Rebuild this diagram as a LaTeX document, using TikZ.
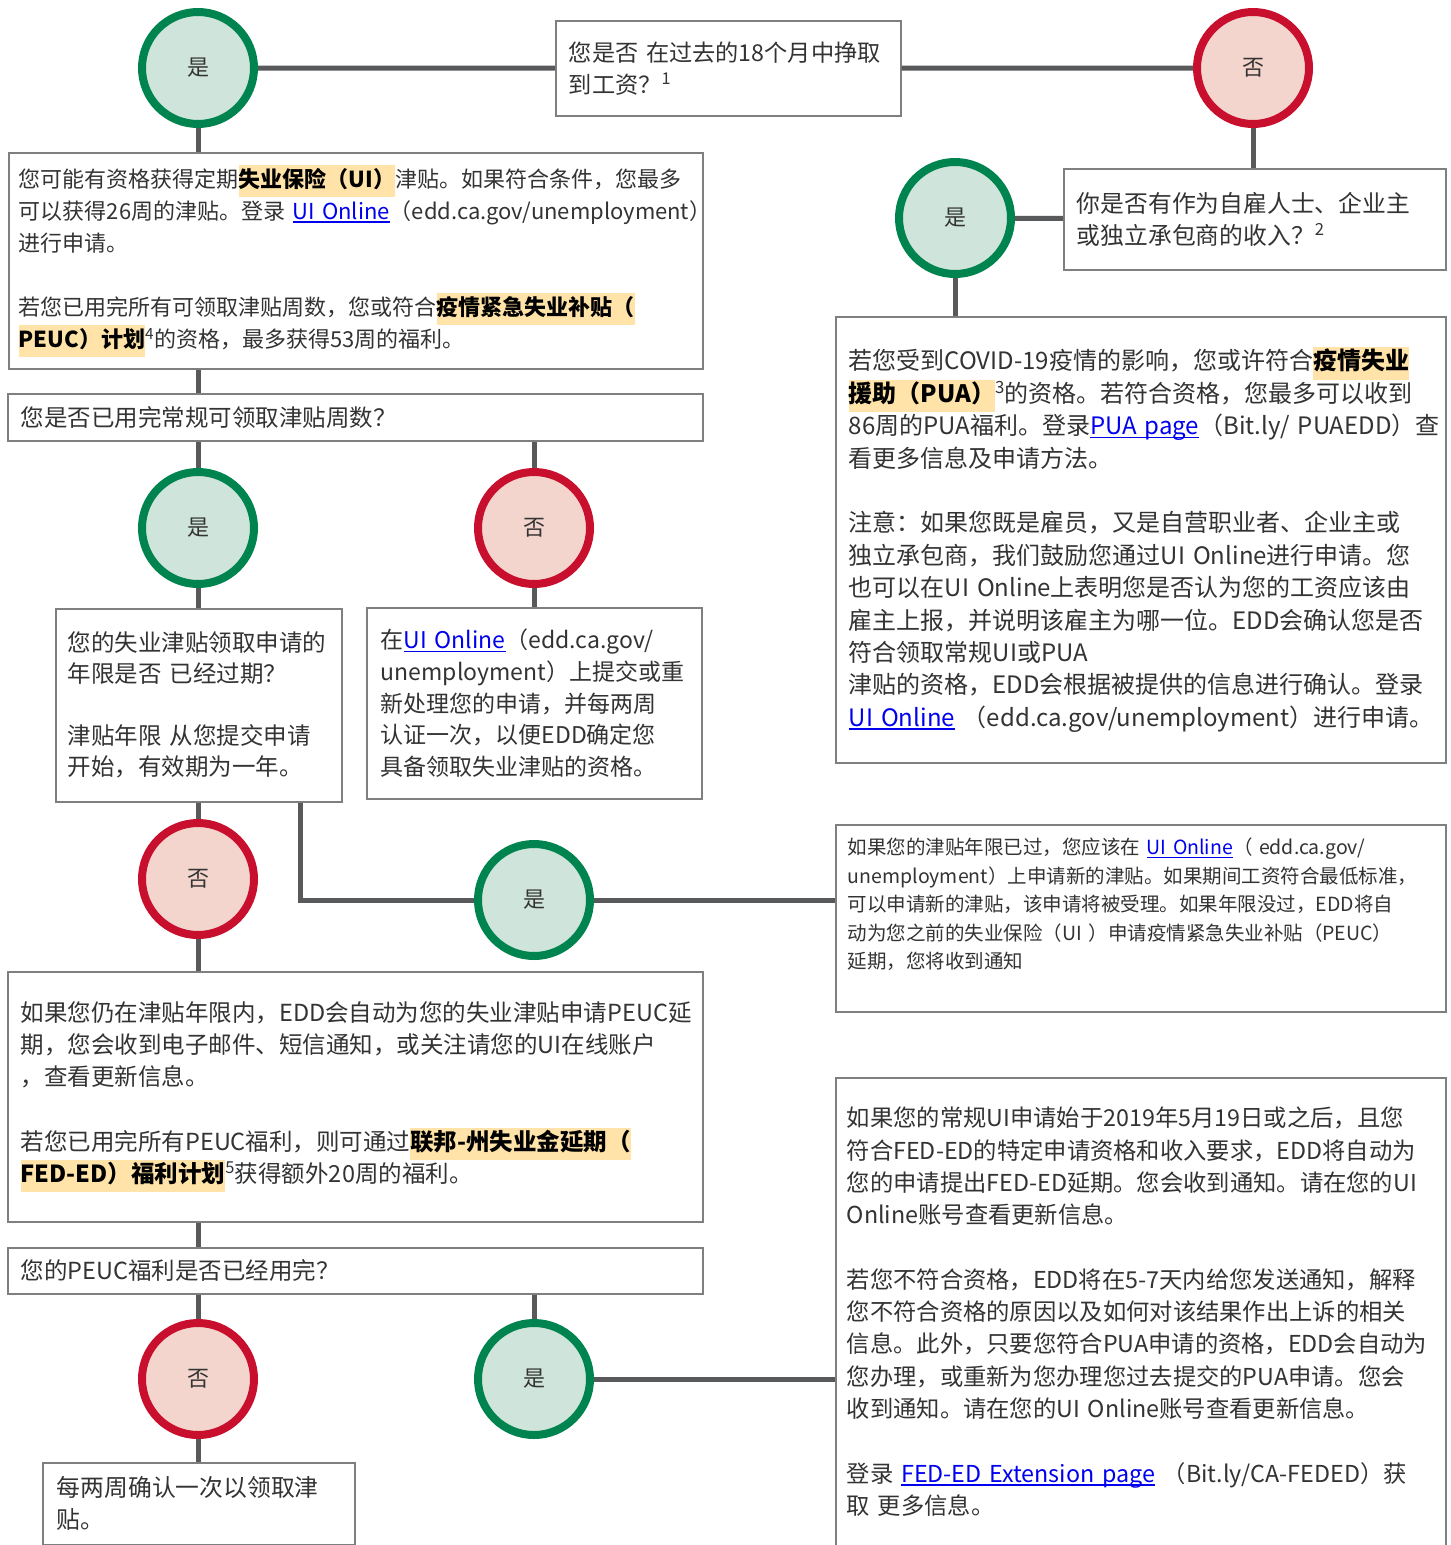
\documentclass[tikz,border=0pt]{standalone}
\usepackage{fontspec}
\setmainfont{Noto Sans CJK SC}
\definecolor{yesring}{HTML}{00844F}
\definecolor{yesfill}{HTML}{CFE4DA}
\definecolor{noring}{HTML}{C8102E}
\definecolor{nofill}{HTML}{F3D5CD}
\definecolor{hlfill}{HTML}{FFE3A8}
\definecolor{boxline}{HTML}{7F7F7F}
\definecolor{wireline}{HTML}{58595B}
\definecolor{linkblue}{HTML}{0000EE}
\definecolor{ink}{HTML}{333333}
\newcommand{\hlt}[1]{{\setlength{\fboxsep}{0pt}\colorbox{hlfill}{\strut\bfseries\color{black}#1}}}
\newcommand{\lnk}[1]{\leavevmode{\color{linkblue}\setbox0=\hbox{#1}\rlap{\rule[-3.5pt]{\wd0}{1.5pt}}\box0}}

\begin{document}
\begin{tikzpicture}[x=1pt,y=-1pt,
yescirc/.style={circle,draw=yesring,fill=yesfill,line width=8pt,minimum size=112pt,inner sep=0pt,text=ink,font=\fontsize{22}{22}\selectfont},
nocirc/.style={yescirc,draw=noring,fill=nofill},
box/.style={draw=boxline,line width=1.6pt,fill=white,anchor=north west,align=left,inner ysep=0pt,text=ink},
wire/.style={draw=wireline,line width=5pt}]
\path[use as bounding box,fill=white] (0,0) rectangle (1451,1545);

\node[yescirc] (c1) at (198,68) {是};
\node[nocirc] (c2) at (1253,68) {否};
\node[box,minimum width=345pt,minimum height=95pt,text width=319pt,inner xsep=13pt,
    font=\fontsize{23.2}{32}\selectfont] (q1) at (555,20)
    {您是否~在过去的18个月中挣取\\到工资？\textsuperscript{1}};
\node[box,minimum width=382pt,minimum height=101pt,text width=356pt,inner xsep=13pt,
    font=\fontsize{23.8}{32}\selectfont] (q3) at (1063,168)
    {你是否有作为自雇人士、企业主\\或独立承包商的收入？\textsuperscript{2}};
\node[yescirc] (c3) at (955,218) {是};
\node[box,minimum width=610pt,minimum height=446pt,text width=584pt,inner xsep=13pt,
    font=\fontsize{24}{32.4}\selectfont] (pua) at (835,316)
    {若您受到COVID-19疫情的影响，您或许符合\hlt{疫情失业}\\
    \hlt{援助（PUA）}\textsuperscript{3}的资格。若符合资格，您最多可以收到\\
    86周的PUA福利。登录\lnk{PUA~page}（Bit.ly/~PUAEDD）查\\
    看更多信息及申请方法。\\[32.4pt]
    注意：如果您既是雇员，又是自营职业者、企业主或\\
    独立承包商，我们鼓励您通过UI~Online进行申请。您\\
    也可以在UI~Online上表明您是否认为您的工资应该由\\
    雇主上报，并说明该雇主为哪一位。EDD会确认您是否\\
    符合领取常规UI或PUA\\
    津贴的资格，EDD会根据被提供的信息进行确认。登录\\
    \lnk{UI~Online}~（edd.ca.gov/unemployment）进行申请。};

\node[box,minimum width=694pt,minimum height=216pt,text width=674pt,inner xsep=10pt,
    font=\fontsize{22}{32}\selectfont] (ui) at (8,152)
    {您可能有资格获得定期\hlt{失业保险（UI）}津贴。如果符合条件，您最多\\
    可以获得26周的津贴。登录~\lnk{UI~Online}（edd.ca.gov/unemployment）\\
    进行申请。\\[32pt]
    若您已用完所有可领取津贴周数，您或符合\hlt{疫情紧急失业补贴（}\\
    \hlt{PEUC）计划}\textsuperscript{4}的资格，最多获得53周的福利。};
\node[box,minimum width=695pt,minimum height=47pt,text width=669pt,inner xsep=13pt,
    font=\fontsize{23.5}{32}\selectfont] (q2) at (7,393)
    {您是否已用完常规可领取津贴周数？};
\node[yescirc] (c4) at (198,528) {是};
\node[nocirc] (c5) at (534,528) {否};
\node[box,minimum width=286pt,minimum height=193pt,text width=262pt,inner xsep=12pt,
    font=\fontsize{23.5}{31}\selectfont] (lim) at (55,608)
    {您的失业津贴领取申请的\\
    年限是否~已经过期？\\[31pt]
    津贴年限~从您提交申请\\
    开始，有效期为一年。};
\node[box,minimum width=335pt,minimum height=191pt,text width=307pt,inner xsep=14pt,
    font=\fontsize{23}{31.75}\selectfont] (cert) at (366,607)
    {在\lnk{UI~Online}（edd.ca.gov/\\
    unemployment）上提交或重\\
    新处理您的申请，并每两周\\
    认证一次，以便EDD确定您\\
    具备领取失业津贴的资格。};
\node[nocirc] (c6) at (198,879) {否};
\node[yescirc] (c7) at (534,900) {是};
\coordinate (limr) at ([xshift=102pt]lim.south);
\node[box,minimum width=610pt,minimum height=187pt,text width=586pt,inner xsep=12pt,
    font=\fontsize{19.5}{28.5}\selectfont] (new) at (835,824)
    {如果您的津贴年限已过，您应该在~\lnk{UI~Online}（~edd.ca.gov/\\
    unemployment）上申请新的津贴。如果期间工资符合最低标准，\\
    可以申请新的津贴，该申请将被受理。如果年限没过，EDD将自\\
    动为您之前的失业保险（UI~）申请疫情紧急失业补贴（PEUC）\\
    延期，您将收到通知\par\vspace*{28pt}};
\node[box,minimum width=695pt,minimum height=250pt,text width=669pt,inner xsep=13pt,
    font=\fontsize{23.5}{32.3}\selectfont] (peuc) at (7,971)
    {如果您仍在津贴年限内，EDD会自动为您的失业津贴申请PEUC延\\
    期，您会收到电子邮件、短信通知，或关注请您的UI在线账户\\
    ，查看更新信息。\\[32.3pt]
    若您已用完所有PEUC福利，则可通过\hlt{联邦-州失业金延期（}\\
    \hlt{FED-ED）福利计划}\textsuperscript{5}获得额外20周的福利。};
\node[box,minimum width=695pt,minimum height=46pt,text width=669pt,inner xsep=13pt,
    font=\fontsize{23.5}{32}\selectfont] (q5) at (7,1247)
    {您的PEUC福利是否已经用完？};
\node[nocirc] (c8) at (198,1379) {否};
\node[yescirc] (c9) at (534,1379) {是};
\node[box,minimum width=610pt,minimum height=500pt,text width=588pt,inner xsep=11pt,
    font=\fontsize{23.3}{32.3}\selectfont] (fed) at (835,1077)
    {如果您的常规UI申请始于2019年5月19日或之后，且您\\
    符合FED-ED的特定申请资格和收入要求，EDD将自动为\\
    您的申请提出FED-ED延期。您会收到通知。请在您的UI\\
    Online账号查看更新信息。\\[32.3pt]
    若您不符合资格，EDD将在5-7天内给您发送通知，解释\\
    您不符合资格的原因以及如何对该结果作出上诉的相关\\
    信息。此外，只要您符合PUA申请的资格，EDD会自动为\\
    您办理，或重新为您办理您过去提交的PUA申请。您会\\
    收到通知。请在您的UI~Online账号查看更新信息。\\[32.3pt]
    登录~\lnk{FED-ED~Extension~page}~（Bit.ly/CA-FEDED）获\\
    取~更多信息。\par\vspace*{32pt}};
\node[box,minimum width=312pt,minimum height=82pt,text width=284pt,inner xsep=14pt,
    font=\fontsize{23.8}{32}\selectfont] (fin) at (42,1462)
    {每两周确认一次以领取津\\贴。};

\draw[wire] (c1) -- (q1);
\draw[wire] (q1) -- (c2);
\draw[wire] (c2.south) -- (c2.south |- q3.north);
\draw[wire] (c3) -- (q3);
\draw[wire] (c3.south) -- (c3.south |- pua.north);
\draw[wire] (c1.south) -- (c1.south |- ui.north);
\draw[wire] (c4 |- ui.south) -- (c4 |- q2.north);
\draw[wire] (c4 |- q2.south) -- (c4.north);
\draw[wire] (c5 |- q2.south) -- (c5.north);
\draw[wire] (c4.south) -- (c4 |- lim.north);
\draw[wire] (c5.south) -- (c5 |- cert.north);
\draw[wire] (c6 |- lim.south) -- (c6.north);
\draw[wire] (limr) |- (c7.west);
\draw[wire] (c7.east) -- (c7.east -| new.west);
\draw[wire] (c6.south) -- (c6 |- peuc.north);
\draw[wire] (c8 |- peuc.south) -- (c8 |- q5.north);
\draw[wire] (c8 |- q5.south) -- (c8.north);
\draw[wire] (c9 |- q5.south) -- (c9.north);
\draw[wire] (c9.east) -- (c9.east -| fed.west);
\draw[wire] (c8.south) -- (c8 |- fin.north);
\end{tikzpicture}
\end{document}
